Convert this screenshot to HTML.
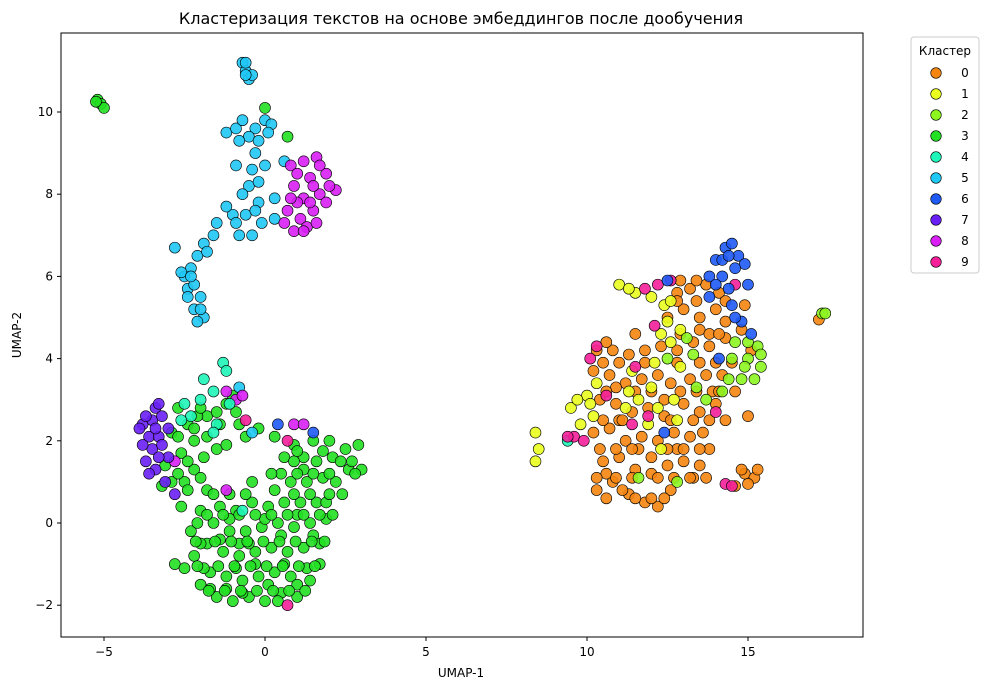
<!DOCTYPE html>
<html><head><meta charset="utf-8"><style>
body{margin:0;background:#fff;font-family:"Liberation Sans","DejaVu Sans",sans-serif;}
svg text{font-family:"DejaVu Sans","Liberation Sans",sans-serif;}
</style></head><body>
<svg id="chart" width="991" height="690">
<text x="461" y="24" font-size="16" text-anchor="middle">Кластеризация текстов на основе эмбеддингов после дообучения</text>
<g id="points"></g>
<rect x="61" y="33" width="802" height="604" fill="none" stroke="#000" stroke-width="1"/>
<g id="axes"></g>
<text x="461" y="677" font-size="12" text-anchor="middle">UMAP-1</text>
<text x="21" y="335" font-size="12" text-anchor="middle" transform="rotate(-90 21 335)">UMAP-2</text>
<g id="legend"></g>
</svg>
<script>
const xTicks=[-5,0,5,10,15];
const yTicks=[-2,0,2,4,6,8,10];
const clusterLabels=["0","1","2","3","4","5","6","7","8","9"];
const colors=["#f5850f","#eaff1f","#8cf51f","#22e022","#1ff5b8","#1fc8f5","#1f5af5","#6a1ff5","#d91ff5","#f51f9a"];
const c0=[[10.3,0.8],[10.8,1],[11.3,0.7],[11.8,0.5],[12.2,0.4],[12.6,0.8],[10.5,1.5],[11,1.6],[11.5,1.3],[12,1.2],[12.5,1.4],[13,1.5],[13.5,1.4],[10.2,2.2],[10.7,2.3],[11.2,2],[11.7,2.1],[12.2,2],[12.7,2.2],[13.2,2.1],[10.4,3],[10.9,2.9],[11.4,2.7],[11.9,2.8],[12.4,2.6],[13,2.9],[13.5,2.7],[14,2.9],[10.2,3.7],[10.7,3.6],[11.2,3.4],[11.7,3.5],[12.6,3.4],[13.2,3.5],[13.7,3.6],[14.2,3.6],[10.3,4.2],[10.8,4.2],[11.3,4.1],[12.3,4.3],[12.8,4.2],[13.3,4.4],[13.8,4.3],[14.3,4.5],[14.8,4.7],[12.5,5],[13,5.2],[13.5,5],[14,5.2],[13.2,5.7],[13.7,5.8],[12.8,5.6],[14.9,5.3],[14.9,1.2],[15.2,1.1],[14.6,0.9],[15,2.6],[12,1.6],[11.1,0.8],[13.6,2.2],[17.2,4.95],[10.6,1.2],[11.6,1.8],[12.8,1.8],[13.3,1.1],[13.8,1.8],[10.9,3.3],[12.4,3],[13.9,3.2],[14.5,3.9],[11.8,4.2],[13.5,4.7],[12.2,3.6],[11,2.5],[10.6,4.4],[14.3,4.9],[15.1,4.2],[14.1,5.6],
[10.6,0.6],[11.5,0.6],[12,0.6],[12.4,0.6],[10.3,1.1],[10.9,1.1],[11.4,1.1],[12.2,1.1],[12.7,1.1],[13.2,1.1],[13.7,1.1],[10.4,1.8],[10.9,1.8],[11.4,1.8],[12.5,1.8],[13,1.8],[13.5,1.8],[10.5,2.5],[11.1,2.5],[12.6,2.5],[13.3,2.5],[13.8,2.5],[14.3,2.5],[10.6,3.2],[11.5,3.2],[12,3.2],[12.9,3.2],[13.4,3.2],[14.1,3.2],[14.6,3.2],[10.5,3.9],[11,3.9],[11.8,3.9],[12.8,3.9],[13.5,3.9],[14,3.9],[11.5,4.6],[12.9,4.6],[13.8,4.6],[14.1,4.6],[12.8,5.4],[13.4,5.4],[14.3,5.4],[13.4,5.9],[12.9,5.9],[15,0.95],[15.3,1.3],[14.8,1.3]];
const c1=[[11,5.8],[11.5,5.6],[12,5.5],[12.3,4.6],[12.1,3.9],[11.6,3],[10.2,2.6],[9.5,2.8],[9.8,2.4],[10,3.1],[11.2,2.8],[12.2,2.8],[12.9,3.8],[12.7,3],[8.4,2.2],[8.5,1.8],[8.4,1.5],[12.4,5.3],[12.9,4.7],[11.9,2.4],[12.8,2.5],[12.3,1.8],[11.4,3.7],[12.6,4.4],[10.1,2.9],[10.3,3.4],[9.7,3],[11.3,5.7],[12.5,4.9],[12.6,5.4],[12,3.3],[11.3,3.2]];
const c2=[[14.5,4],[15,4],[15.4,3.8],[14.8,3.5],[15.2,3.5],[14.2,3.2],[13.7,3],[12.5,4],[13.1,4.5],[11.6,1.1],[12.8,1],[17.3,5.1],[17.4,5.1],[14.6,4.4],[15.3,4.3],[13.4,3.3],[14.9,3.8],[15.4,4.1],[15,4.4],[14.4,3.5],[13.3,4.1]];
const c3=[[-5.2,10.3],[-5.1,10.2],[-5.0,10.1],[-5.25,10.25],[0,10.1],[0.7,9.4],[-2,-1.5],[-1.5,-1.8],[-1,-1.9],[-0.5,-1.8],[0,-1.9],[0.5,-1.7],[1,-1.8],[-2.2,-0.8],[-1.7,-1.2],[-1.2,-1.3],[-0.7,-1.4],[-0.2,-1.3],[0.3,-1.2],[0.8,-1.3],[1.3,-1.1],[1.7,-1],[-2.3,-0.2],[-1.8,-0.5],[-1.3,-0.7],[-0.8,-0.8],[-0.3,-0.7],[0.2,-0.6],[0.7,-0.7],[1.2,-0.6],[1.7,-0.5],[-2.1,0],[-1.6,0],[-1.1,-0.2],[-0.6,-0.2],[-0.1,-0.1],[0.4,0],[0.9,-0.1],[1.4,0],[1.9,0.1],[-1.4,0.4],[-0.9,0.3],[-0.4,0.5],[0.1,0.4],[0.6,0.5],[1.1,0.5],[1.6,0.5],[0.8,1],[1.3,1],[0.5,1.2],[1.8,1.1],[2.2,1],[2.6,1.3],[3,1.3],[2.5,1.8],[2.9,1.9],[2.1,1.6],[1.6,1.5],[1.2,1.6],[1.5,2],[0.9,1.9],[2,2],[-0.4,1],[-1.8,0.8],[-2,-0.5],[-0.3,-1],[0.6,-1],[1,-1.5],[-1.2,-1.6],[-1.6,0.7],[-2.6,0.4],[-2.8,-1],[-2.5,-1.1],[-0.8,-0.5],[0.3,0.8],[-2.9,1],[-3.1,1.4],[-2.6,1.7],[-2.2,2],[-2.9,2.2],[-2.4,2.4],[-1.8,2.1],[-1.4,2.4],[-1.8,2.6],[-2.7,2.8],[-1.2,2.9],[-1,3.1],[-2.2,1.3],[-2.5,1],[-0.8,2.4],[-0.2,2.3],[0.3,2.1],[-1.5,1.8],[-3.2,0.9],[-1.9,-1.1],[-0.9,-1.1],[0.1,-1.5],[1.4,-1.4],[-1.4,-0.4],[-0.5,-0.5],[0.5,-0.3],[1.5,-0.3],[-2,0.3],[-1.1,0.1],[0,0.1],[1,0.2],[1.9,0.5],[1.2,1.3],[0.6,1.6],[-0.7,-1.7],[0.4,-1.9],[-1.7,-1.6],[-2.4,0.8],[-2.1,2.6],[-1.2,1.9],
[-1.75,-1.65],[-1.25,-1.65],[-0.75,-1.65],[-0.25,-1.65],[0.25,-1.65],[0.75,-1.65],[1.25,-1.65],[-2.1,-1.05],[-1.45,-1.05],[-0.95,-1.05],[-0.45,-1.05],[0.05,-1.05],[0.55,-1.05],[1.05,-1.05],[1.55,-1.05],[-2.15,-0.45],[-1.55,-0.45],[-1.05,-0.45],[-0.55,-0.45],[-0.05,-0.45],[0.45,-0.45],[0.95,-0.45],[1.45,-0.45],[1.85,-0.45],[-1.8,0.2],[-1.3,0.2],[-0.8,0.2],[-0.3,0.2],[0.2,0.2],[0.7,0.2],[1.2,0.2],[1.7,0.2],[2.1,0.2],[-1.1,0.7],[-0.6,0.7],[0.9,0.7],[1.4,0.7],[2,0.7],[2.4,0.7],[0.2,1.2],[1,1.2],[1.5,1.2],[2,1.2],[2.8,1.2],[0.9,1.5],[2.35,1.5],[2.7,1.5],[1.8,1.75],[1,1.75],[-2.7,2.1],[-2.2,2.3],[-1.9,1.6],[-2.4,1.5],[-2.7,1.2],[-2,1.1],[-1.5,2.7],[-0.9,2.7],[-0.6,2.1],[-2,2.8]];
const c4=[[-1.3,3.9],[-1.2,3.7],[-1.6,3.2],[-2,3],[-1.1,2.9],[-2.5,2.9],[-2.3,2.6],[-1.9,3.5],[-2.6,2.5],[-1.5,2.4],[-0.7,0.3],[-1.6,2.2],[9.4,2]];
const c5=[[-0.7,11.2],[-0.6,11],[-0.5,10.8],[-0.4,10.9],[-0.6,11.2],[0,9.8],[-0.3,9.6],[0.2,9.7],[-0.5,9.4],[0.1,9.5],[-1.2,9.5],[-0.8,9.3],[-0.3,9],[0,8.7],[-0.4,8.6],[-0.9,8.7],[-0.5,8.2],[-0.2,7.8],[0.3,7.9],[-0.6,7.5],[-0.1,7.3],[0.3,7.4],[-0.4,7],[-0.8,7],[-1,7.5],[-1.2,7.7],[-1.6,7],[-1.9,6.8],[-2.1,6.5],[-2.3,6.2],[-2.5,6],[-2.4,5.7],[-2,5.5],[-2.2,5.2],[-1.9,5],[-2.1,4.9],[-2.8,6.7],[-2.6,6.1],[0.6,8.8],[-1.5,7.3],[-0.8,3.3],[-0.4,2.2],[-0.9,9.6],[-0.2,8.3],[-2.2,5.8],[-0.6,10.9],[-0.2,9.3],[-0.7,8],[-0.9,7.3],[-0.3,7.6],[-2.3,6],[-2,5.2],[-2.4,5.5],[-1.8,6.6],[-0.7,9.8]];
const c6=[[14,6.4],[14.3,6.7],[14.5,6.8],[14.7,6.5],[14.9,6.3],[14.2,6],[13.8,6],[14.5,5.3],[14.8,4.9],[15.1,4.6],[13.8,5.5],[14.4,5.7],[12.5,5.9],[12.4,2.2],[14.1,4],[0.4,2.4],[1.5,2.2],[14.6,6.2],[14.2,6.4],[15,5.8],[14,5.8],[14.6,5],[14.4,6.5]];
const c7=[[-3.8,2.4],[-3.5,2.5],[-3.4,2.8],[-3.2,2.6],[-3.6,2.1],[-3.3,2.1],[-3,2.3],[-3.5,1.8],[-3.7,1.5],[-3.4,1.3],[-3,1.6],[-3.1,1],[-2.8,0.7],[-3.3,2.9],[-3.9,2.3],[-3.2,1.9],[-3.7,2.6],[-3.4,2.3],[-3.6,1.2],[-3.3,1.6],[-3.8,1.9]];
const c8=[[0.8,8.7],[1.2,8.8],[1.6,8.9],[1.9,8.5],[2.2,8.1],[1.4,8.4],[0.9,8.2],[1.7,8],[1.2,7.9],[0.7,7.6],[1.1,7.4],[1.5,7.6],[0.9,7.1],[1.3,7.2],[0.6,7.3],[1.9,7.8],[-1.2,3.2],[-0.9,3],[-0.7,3.1],[0.9,2.4],[1.2,2.4],[-1.2,0.8],[-2.8,1.5],[1.5,8.2],[1,7.8],[1.7,8.7],[2,8.2],[1,8.5],[1.4,7.8],[0.8,7.9],[1.2,7.1],[1.6,7.3]];
const c9=[[9.6,2.1],[9.9,2],[9.4,2.1],[10.1,4],[10.3,4.3],[11.8,5.7],[12.2,5.8],[12.6,5.9],[11.4,2.4],[11.9,2.6],[14.3,0.95],[14.5,0.9],[14,2.7],[12.1,4.8],[14.6,5.8],[10.6,3.1],[11.5,3.8],[0.7,-2],[0.7,2],[-0.6,2.5]];
const clusters=[c0,c1,c2,c3,c4,c5,c6,c7,c8,c9];
const drawOrder=[3,5,8,4,7,0,1,2,9,6];

const NS="http://www.w3.org/2000/svg";
const xs=v=>265+v*32.2;
const ys=v=>523-v*41.1;
function mk(tag,attrs,parent){const e=document.createElementNS(NS,tag);for(const k in attrs)e.setAttribute(k,attrs[k]);parent.appendChild(e);return e;}
const pts=document.getElementById('points');
drawOrder.forEach(ci=>{
  clusters[ci].forEach(p=>{
    const c=mk('circle',{cx:xs(p[0]),cy:ys(p[1]),r:5.5,fill:colors[ci],'fill-opacity':0.9,stroke:'#000','stroke-width':0.6},pts);
    
    
  });
});
const ax=document.getElementById('axes');
xTicks.forEach(t=>{
  const x=xs(t);
  const l=mk('line',{x1:x,x2:x,y1:637,y2:641,stroke:'#000'},ax);
  
  
  const tx=mk('text',{x:x,y:656,'font-size':12,'text-anchor':'middle'},ax);
  tx.textContent=t<0?'\u2212'+Math.abs(t):String(t);
  
  
});
yTicks.forEach(t=>{
  const y=ys(t);
  const l=mk('line',{x1:57,x2:61,y1:y,y2:y,stroke:'#000'},ax);
  
  
  const tx=mk('text',{x:53,y:y+4,'font-size':12,'text-anchor':'end'},ax);
  tx.textContent=t<0?'\u2212'+Math.abs(t):String(t);
  
  
});
const lg=document.getElementById('legend');
const box=mk('rect',{x:911,y:37,width:68,height:236,rx:3,fill:'#fff',stroke:'#ccc'},lg);


const lt=mk('text',{x:945,y:55,'font-size':12,'text-anchor':'middle'},lg);
lt.textContent='Кластер';


clusterLabels.forEach((lab,i)=>{
  const y=73+i*21;
  const c=mk('circle',{cx:936,cy:y,r:5.3,fill:colors[i],stroke:'#000','stroke-width':0.6},lg);
  
  
  const t=mk('text',{x:965,y:y+4,'font-size':12,'text-anchor':'middle'},lg);
  t.textContent=lab;
  
  
});
</script>
</body></html>
